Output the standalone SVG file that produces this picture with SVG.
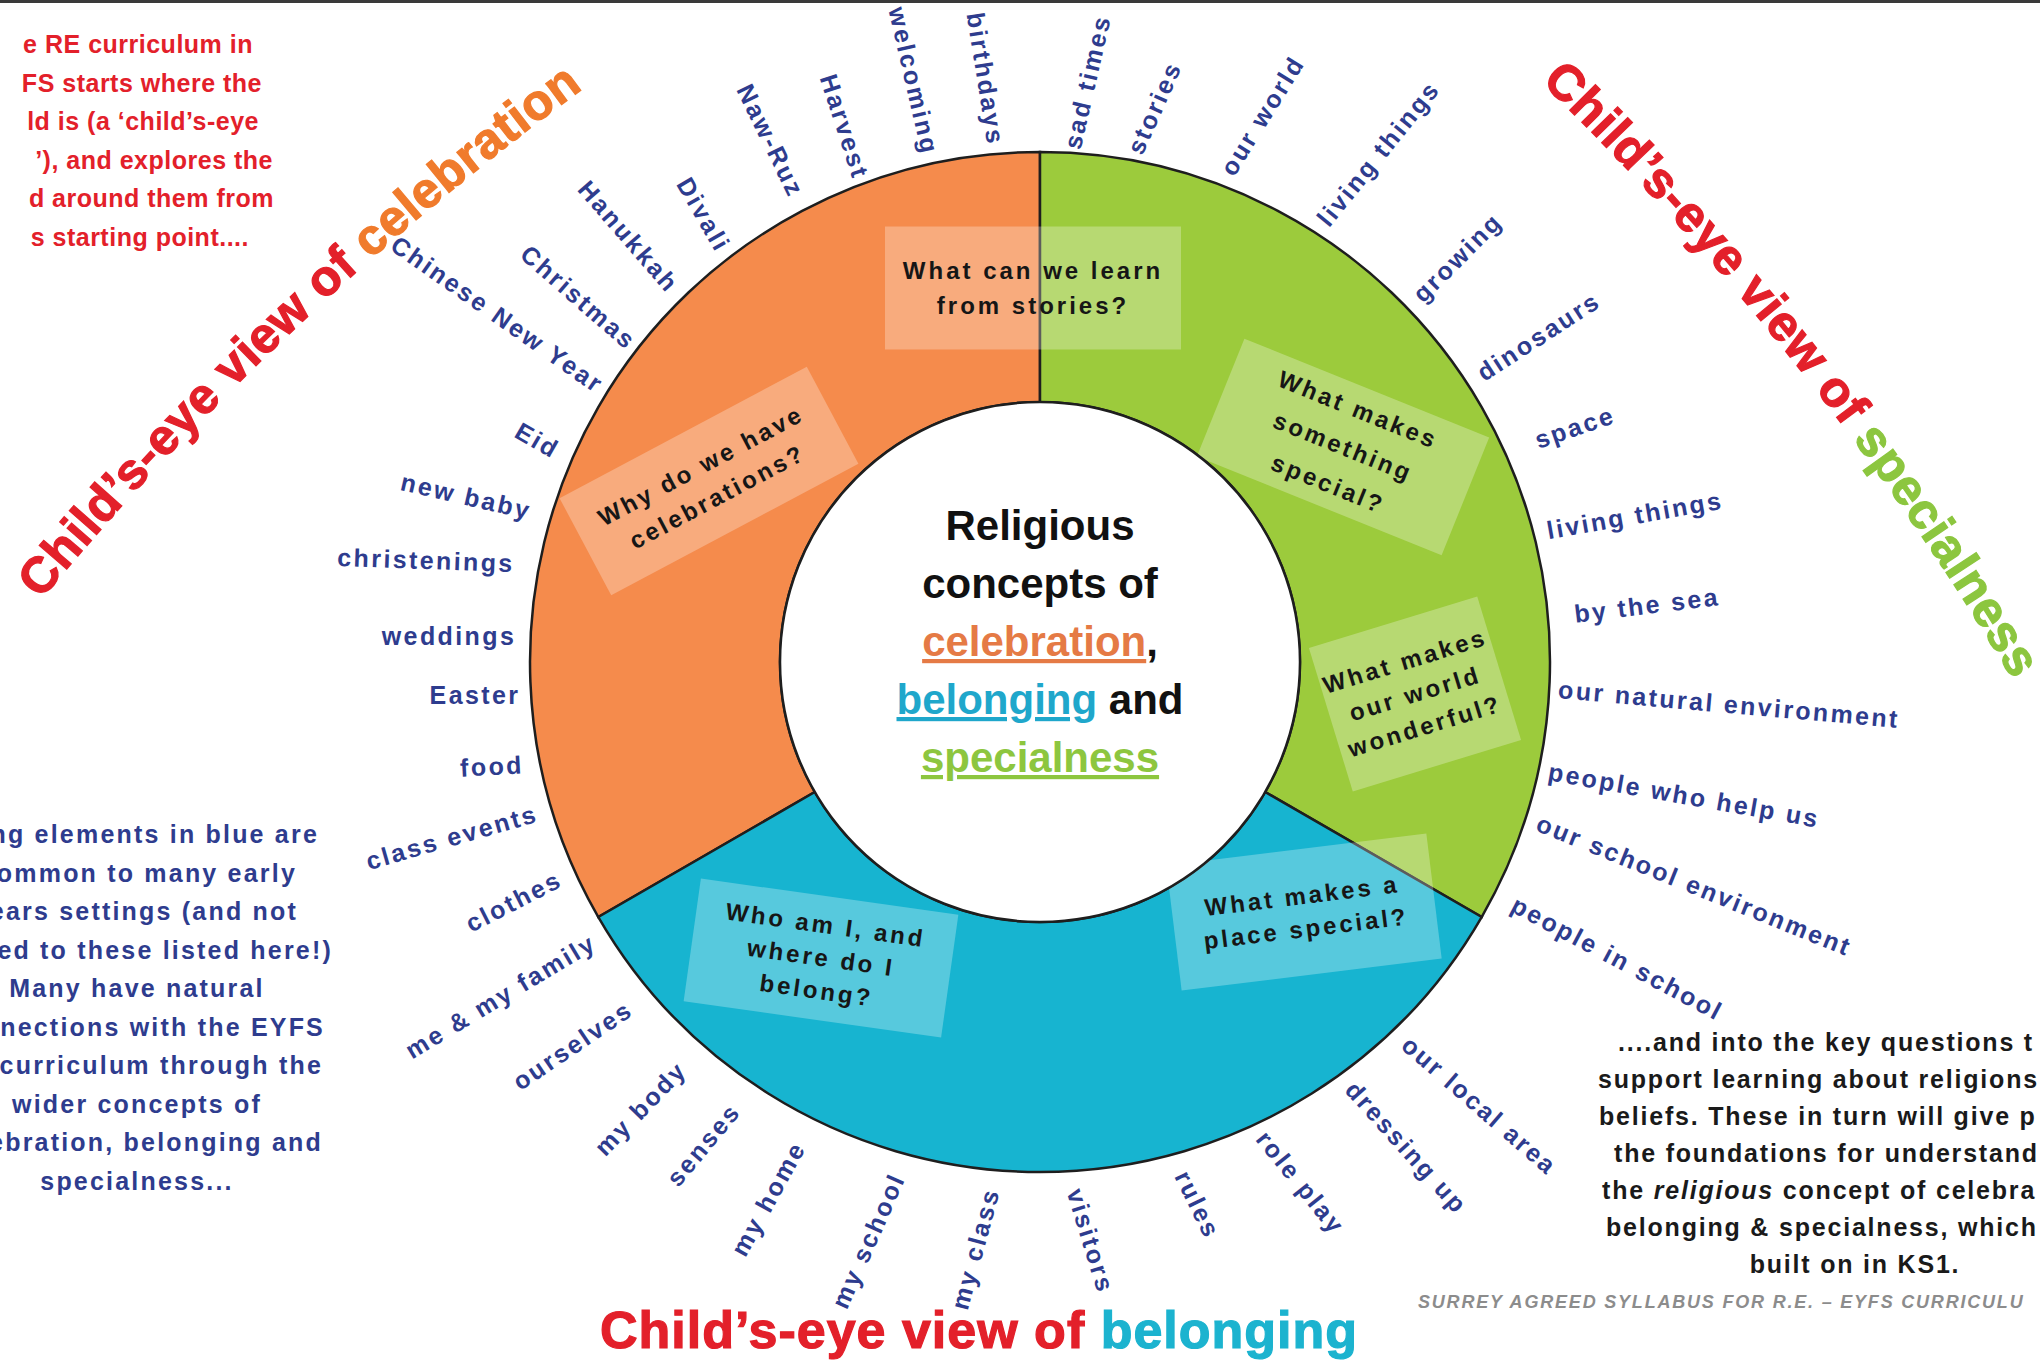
<svg xmlns="http://www.w3.org/2000/svg" width="2040" height="1360" viewBox="0 0 2040 1360">
<style>
.f{font-family:"Liberation Sans",Arial,sans-serif;font-weight:bold}
.lb{font-family:"Liberation Sans",Arial,sans-serif;font-weight:bold;font-size:25px;fill:#2E3C8E;letter-spacing:2.4px;text-anchor:middle}
.q{font-family:"Liberation Sans",Arial,sans-serif;font-weight:bold;font-size:24px;fill:#161616;letter-spacing:3px;text-anchor:middle}
.box{fill:#ffffff;fill-opacity:0.28}
.big{font-family:"Liberation Sans",Arial,sans-serif;font-weight:bold;font-size:50px;letter-spacing:0.6px;stroke-width:1.2px}
.red{fill:#E3202A;stroke:#E3202A}
.org{fill:#F07B2C;stroke:#F07B2C}
.grn{fill:#8CC63F;stroke:#8CC63F}
.cyn{fill:#1CB3CF;stroke:#1CB3CF}
.rp{font-family:"Liberation Sans",Arial,sans-serif;font-weight:bold;font-size:25px;fill:#E3202A;letter-spacing:0.5px;text-anchor:end}
.bp{font-family:"Liberation Sans",Arial,sans-serif;font-weight:bold;font-size:25px;fill:#2E3C8E;letter-spacing:2.2px}
.kp{font-family:"Liberation Sans",Arial,sans-serif;font-weight:bold;font-size:25px;fill:#1A1A1A;letter-spacing:1.8px}
.ctr{font-family:"Liberation Sans",Arial,sans-serif;font-weight:bold;font-size:42px;fill:#111;text-anchor:middle}
.c-or{fill:#E57A45}
.c-bl{fill:#1FA7CB}
.c-gr{fill:#8DC63F}
.seg{stroke:#1E1E1E;stroke-width:2.5}
</style>
<defs>
<path id="arcL" d="M 41 600 A 3000 3000 0 0 1 595 80"/>
<path id="arcR" d="M 1541 82 A 2900 2900 0 0 1 2010 675"/>
</defs>
<rect width="2040" height="1360" fill="#ffffff"/>
<rect width="2040" height="3" fill="#3A3A3A"/>

<g id="ring">
<path class="seg" fill="#F58B4C" d="M 1040 152 A 510 510 0 0 0 598.33 917 L 814.83 792 A 260 260 0 0 1 1040 402 Z"/>
<path class="seg" fill="#9CCB3C" d="M 1040 152 A 510 510 0 0 1 1481.67 917 L 1265.17 792 A 260 260 0 0 0 1040 402 Z"/>
<path class="seg" fill="#17B4D0" d="M 598.33 917 A 510 510 0 0 0 1481.67 917 L 1265.17 792 A 260 260 0 0 1 814.83 792 Z"/>
</g>

<g id="connectors"/>

<g id="q-stories" transform="translate(1033 288)">
<rect class="box" x="-148" y="-61.5" width="296" height="123"/>
<text class="q" y="-9">What can we learn</text>
<text class="q" y="26">from stories?</text>
</g>
<g id="q-celebrations" transform="translate(709 481) rotate(-28)">
<rect class="box" x="-140" y="-55" width="280" height="110"/>
<text class="q" y="-9">Why do we have</text>
<text class="q" y="26">celebrations?</text>
</g>
<g id="q-special" transform="translate(1343 447) rotate(22)">
<rect class="box" x="-132" y="-63.5" width="264" height="127"/>
<text class="q" y="-32">What makes</text>
<text class="q" y="8">something</text>
<text class="q" y="48">special?</text>
</g>
<g id="q-wonderful" transform="translate(1415 694) rotate(-17)">
<rect class="box" x="-88" y="-75" width="176" height="150"/>
<text class="q" y="-26">What makes</text>
<text class="q" y="8">our world</text>
<text class="q" y="42">wonderful?</text>
</g>
<g id="q-place" transform="translate(1304 912) rotate(-7)">
<rect class="box" x="-131" y="-63" width="262" height="126"/>
<text class="q" y="-8">What makes a</text>
<text class="q" y="25">place special?</text>
</g>
<g id="q-belong" transform="translate(821 958) rotate(8)">
<rect class="box" x="-130" y="-62" width="260" height="124"/>
<text class="q" y="-25">Who am I, and</text>
<text class="q" y="8">where do I</text>
<text class="q" y="41">belong?</text>
</g>

<g id="centre">
<circle cx="1040" cy="662" r="260" fill="#ffffff" stroke="#1E1E1E" stroke-width="2.5"/>
<text class="ctr" x="1040" y="540">Religious</text>
<text class="ctr" x="1040" y="598">concepts of</text>
<text class="ctr" x="1040" y="656"><tspan class="c-or" text-decoration="underline">celebration</tspan>,</text>
<text class="ctr" x="1040" y="714"><tspan class="c-bl" text-decoration="underline">belonging</tspan> and</text>
<text class="ctr" x="1040" y="772"><tspan class="c-gr" text-decoration="underline">specialness</tspan></text>
</g>

<g id="labels">
<g id="l1" transform="translate(497 315) rotate(35)"><text class="lb" y="8">Chinese New Year</text></g>
<g id="l2" transform="translate(578 298) rotate(41)"><text class="lb" y="8">Christmas</text></g>
<g id="l3" transform="translate(628 237) rotate(49)"><text class="lb" y="8">Hanukkah</text></g>
<g id="l4" transform="translate(703 215) rotate(60)"><text class="lb" y="8">Divali</text></g>
<g id="l5" transform="translate(770 141) rotate(64)"><text class="lb" y="8">Naw-Ruz</text></g>
<g id="l6" transform="translate(844 127) rotate(72)"><text class="lb" y="8">Harvest</text></g>
<g id="l7" transform="translate(913 81) rotate(77)"><text class="lb" y="8">welcoming</text></g>
<g id="l8" transform="translate(985 79) rotate(81)"><text class="lb" y="8">birthdays</text></g>
<g id="l9" transform="translate(1088 82) rotate(-77)"><text class="lb" y="8">sad times</text></g>
<g id="l10" transform="translate(1155 108) rotate(-66)"><text class="lb" y="8">stories</text></g>
<g id="l11" transform="translate(1263 116) rotate(-58)"><text class="lb" y="8">our world</text></g>
<g id="l12" transform="translate(1379 154) rotate(-51)"><text class="lb" y="8">living things</text></g>
<g id="l13" transform="translate(1458 258) rotate(-45)"><text class="lb" y="8">growing</text></g>
<g id="l14" transform="translate(1539 337) rotate(-33)"><text class="lb" y="8">dinosaurs</text></g>
<g id="l15" transform="translate(1575 428) rotate(-19)"><text class="lb" y="8">space</text></g>
<g id="l16" transform="translate(1635 516) rotate(-10)"><text class="lb" y="8">living things</text></g>
<g id="l17" transform="translate(1647 606) rotate(-7)"><text class="lb" y="8">by the sea</text></g>
<g id="l18" transform="translate(1729 705) rotate(5)"><text class="lb" y="8">our natural environment</text></g>
<g id="l19" transform="translate(1684 796) rotate(10)"><text class="lb" y="8">people who help us</text></g>
<g id="l20" transform="translate(1694 886) rotate(22)"><text class="lb" y="8">our school environment</text></g>
<g id="l21" transform="translate(1617 959) rotate(28)"><text class="lb" y="8">people in school</text></g>
<g id="l22" transform="translate(1479 1106) rotate(41)"><text class="lb" y="8">our local area</text></g>
<g id="l23" transform="translate(1406 1148) rotate(48)"><text class="lb" y="8">dressing up</text></g>
<g id="l24" transform="translate(1300 1183) rotate(51)"><text class="lb" y="8">role play</text></g>
<g id="l25" transform="translate(1197 1205) rotate(64)"><text class="lb" y="8">rules</text></g>
<g id="l26" transform="translate(1090 1241) rotate(73)"><text class="lb" y="8">visitors</text></g>
<g id="l27" transform="translate(976 1249) rotate(-75)"><text class="lb" y="8">my class</text></g>
<g id="l28" transform="translate(869 1241) rotate(-66)"><text class="lb" y="8">my school</text></g>
<g id="l29" transform="translate(769 1199) rotate(-61)"><text class="lb" y="8">my home</text></g>
<g id="l30" transform="translate(704 1145) rotate(-50)"><text class="lb" y="8">senses</text></g>
<g id="l31" transform="translate(641 1109) rotate(-46)"><text class="lb" y="8">my body</text></g>
<g id="l32" transform="translate(573 1046) rotate(-34)"><text class="lb" y="8">ourselves</text></g>
<g id="l33" transform="translate(501 997) rotate(-31)"><text class="lb" y="8">me &amp; my family</text></g>
<g id="l34" transform="translate(514 902) rotate(-27)"><text class="lb" y="8">clothes</text></g>
<g id="l35" transform="translate(452 838) rotate(-16)"><text class="lb" y="8">class events</text></g>
<g id="l36" transform="translate(492 767) rotate(-3)"><text class="lb" y="8">food</text></g>
<g id="l37" transform="translate(475 696)"><text class="lb" y="8">Easter</text></g>
<g id="l38" transform="translate(449 637)"><text class="lb" y="8">weddings</text></g>
<g id="l39" transform="translate(426 561) rotate(2)"><text class="lb" y="8">christenings</text></g>
<g id="l40" transform="translate(466 497) rotate(13)"><text class="lb" y="8">new baby</text></g>
<g id="l41" transform="translate(537 441) rotate(30)"><text class="lb" y="8">Eid</text></g>
</g>

<g id="title-celebration">
<text class="big"><textPath href="#arcL"><tspan class="red">Child’s-eye view of </tspan><tspan class="org">celebration</tspan></textPath></text>
</g>
<g id="title-specialness">
<text class="big"><textPath href="#arcR"><tspan class="red">Child’s-eye view of </tspan><tspan class="grn">specialness</tspan></textPath></text>
</g>
<g id="title-belonging">
<text class="big" x="600" y="1348" style="font-size:52px;letter-spacing:1px"><tspan class="red">Child’s-eye view of </tspan><tspan class="cyn">belonging</tspan></text>
</g>

<g id="note-red">
<text class="rp" x="253" y="53">e RE curriculum in</text>
<text class="rp" x="262" y="91.5">FS starts where the</text>
<text class="rp" x="259" y="130">ld is (a ‘child’s-eye</text>
<text class="rp" x="273" y="168.5">’), and explores the</text>
<text class="rp" x="274" y="207">d around them from</text>
<text class="rp" x="249" y="245.5">s starting point....</text>
</g>

<g id="note-blue">
<text class="bp" x="319" y="843" text-anchor="end">ng elements in blue are</text>
<text class="bp" x="297" y="881.5" text-anchor="end">ommon to many early</text>
<text class="bp" x="298" y="920" text-anchor="end">ears settings (and not</text>
<text class="bp" x="333" y="958.5" text-anchor="end">ed to these listed here!)</text>
<text class="bp" x="137" y="997" text-anchor="middle">Many have natural</text>
<text class="bp" x="325" y="1035.5" text-anchor="end">nections with the EYFS</text>
<text class="bp" x="323" y="1074" text-anchor="end">curriculum through the</text>
<text class="bp" x="137" y="1112.5" text-anchor="middle">wider concepts of</text>
<text class="bp" x="323" y="1151" text-anchor="end">ebration, belonging and</text>
<text class="bp" x="137" y="1189.5" text-anchor="middle">specialness...</text>
</g>

<g id="note-black">
<text class="kp" x="1618" y="1051">....and into the key questions t</text>
<text class="kp" x="1598" y="1088">support learning about religions</text>
<text class="kp" x="1599" y="1125">beliefs. These in turn will give p</text>
<text class="kp" x="1614" y="1162">the foundations for understand</text>
<text class="kp" x="1602" y="1199">the <tspan font-style="italic">religious</tspan> concept of celebra</text>
<text class="kp" x="1606" y="1236">belonging &amp; specialness, which</text>
<text class="kp" x="1855" y="1273" text-anchor="middle">built on in KS1.</text>
</g>

<g id="footer">
<text x="1418" y="1308" style="font-family:'Liberation Sans',Arial,sans-serif;font-weight:bold;font-style:italic;font-size:18px;letter-spacing:1.8px;fill:#8C8C8C">SURREY AGREED SYLLABUS FOR R.E. – EYFS CURRICULU</text>
</g>
</svg>
